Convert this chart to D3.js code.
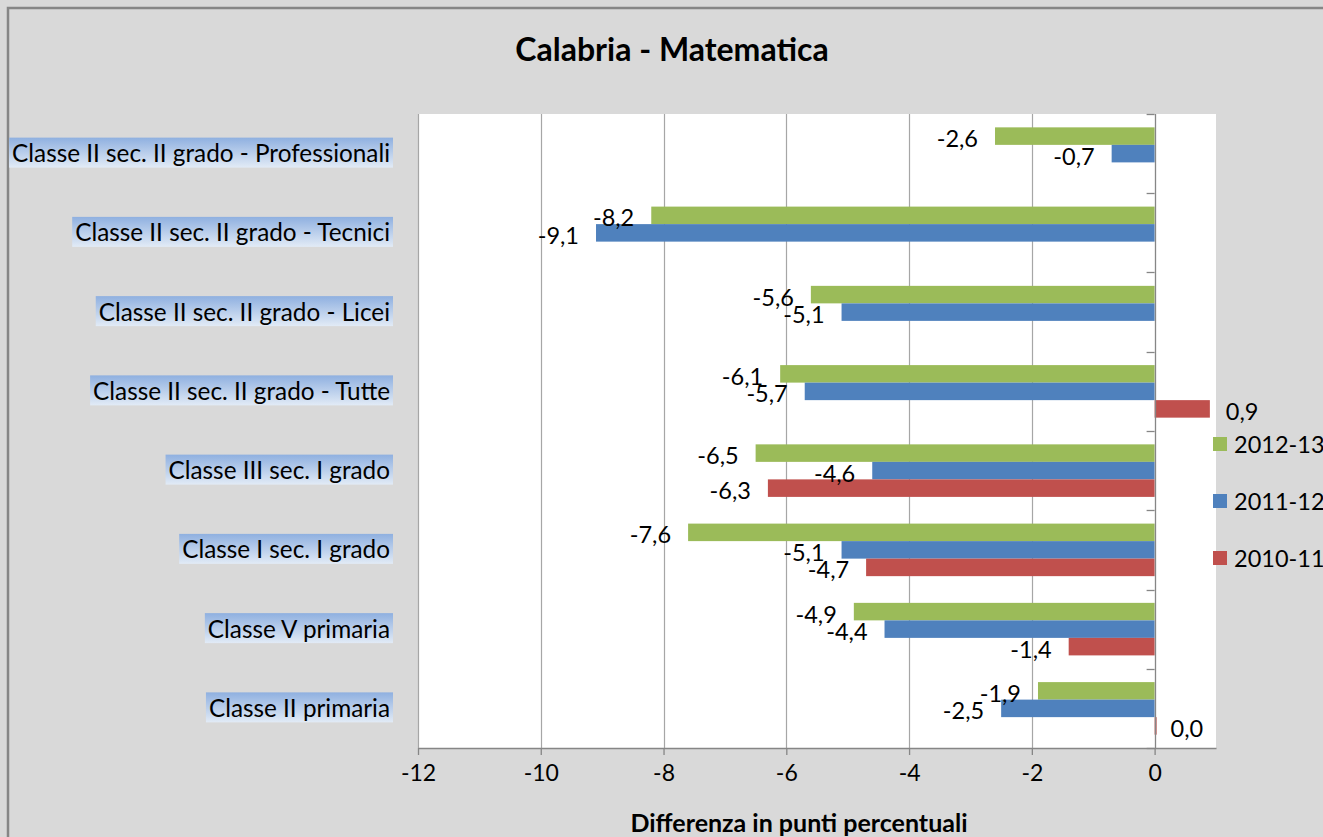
<!DOCTYPE html>
<html>
<head>
<meta charset="utf-8">
<script src="https://cdn.jsdelivr.net/npm/d3@7"></script>
<style>
  html, body { margin: 0; padding: 0; background: #d9d9d9; overflow: hidden; }
  svg { display: block; }
  text { font-family: Lato, "Open Sans", sans-serif; fill: #000; }
</style>
</head>
<body>
<svg id="chart" width="1323" height="837"></svg>
<script>
// ---- data (top-to-bottom display order) ----
const categories = [
  "Classe II sec. II grado - Professionali",
  "Classe II sec. II grado - Tecnici",
  "Classe II sec. II grado - Licei",
  "Classe II sec. II grado - Tutte",
  "Classe III sec. I grado",
  "Classe I sec. I grado",
  "Classe V primaria",
  "Classe II primaria"
];
const seriesNames = ["2012-13", "2011-12", "2010-11"];
const values2012_13 = [-2.6, -8.2, -5.6, -6.1, -6.5, -7.6, -4.9, -1.9];
const values2011_12 = [-0.7, -9.1, -5.1, -5.7, -4.6, -5.1, -4.4, -2.5];
const values2010_11 = [null, null, null, 0.9, -6.3, -4.7, -1.4, 0.0];
const xTicks = [-12, -10, -8, -6, -4, -2, 0];
const seriesColors = ["#9bbb59", "#4f81bd", "#c0504d"];

const seriesValues = [values2012_13, values2011_12, values2010_11];

const svg = d3.select("#chart");
const W = 1323, H = 837;
const plot = { left: 418, right: 1216, top: 114, bottom: 748 };
const FONT = "Lato, 'Open Sans', sans-serif";

// outer chart frame (extends beyond the viewport right/bottom)
svg.append("rect")
  .attr("x", 8).attr("y", 8).attr("width", W + 20).attr("height", H + 20)
  .attr("fill", "#d9d9d9").attr("stroke", "#868686").attr("stroke-width", 2.5);

// plot area
svg.append("rect")
  .attr("x", plot.left).attr("y", plot.top)
  .attr("width", plot.right - plot.left).attr("height", plot.bottom - plot.top)
  .attr("fill", "#ffffff");

const x = d3.scaleLinear().domain([-12, 1]).range([plot.left, plot.right]);
const y = d3.scaleBand().domain(categories).range([plot.top, plot.bottom])
  .paddingInner(0.337).paddingOuter(0.337 / 2);
const ySub = d3.scaleBand().domain(seriesNames).range([0, y.bandwidth()]);

// gridlines
svg.append("g").selectAll("line")
  .data(xTicks.filter(t => t !== 0))
  .join("line")
  .attr("x1", d => Math.round(x(d)) + 0.5).attr("x2", d => Math.round(x(d)) + 0.5)
  .attr("y1", plot.top).attr("y2", plot.bottom)
  .attr("stroke", "#a6a6a6").attr("stroke-width", 1.2);

// bars
const rows = [];
seriesNames.forEach((s, si) => {
  categories.forEach((c, ci) => {
    const v = seriesValues[si][ci];
    if (v !== null) rows.push({ s, si, c, v });
  });
});

svg.append("g").selectAll("rect")
  .data(rows)
  .join("rect")
  .attr("x", d => d.v === 0 ? x(0) : Math.min(x(0), x(d.v)))
  .attr("width", d => d.v === 0 ? 2 : Math.abs(x(d.v) - x(0)))
  .attr("y", d => y(d.c) + ySub(d.s))
  .attr("height", ySub.bandwidth())
  .attr("fill", d => seriesColors[d.si]);

// value labels
const fmt = v => d3.format(".1f")(v).replace(".", ",").replace("−", "-");
svg.append("g").selectAll("text")
  .data(rows)
  .join("text")
  .attr("x", d => d.v < 0 ? x(d.v) - 17 : x(d.v) + 16)
  .attr("y", d => y(d.c) + ySub(d.s) + ySub.bandwidth() / 2 + 2)
  .attr("text-anchor", d => d.v < 0 ? "end" : "start")
  .attr("dominant-baseline", "central")
  .attr("font-size", 23.5)
  .text(d => fmt(d.v));

// vertical axis at 0
const yAxisG = svg.append("g");
yAxisG.append("line")
  .attr("x1", Math.round(x(0)) + 0.5).attr("x2", Math.round(x(0)) + 0.5)
  .attr("y1", plot.top).attr("y2", plot.bottom)
  .attr("stroke", "#868686").attr("stroke-width", 1.3);
const boundaries = categories.map(c => y(c) - y.step() * y.paddingInner() / 2)
  .concat([plot.bottom]);
yAxisG.selectAll("line.tick")
  .data(boundaries)
  .join("line").attr("class", "tick")
  .attr("x1", x(0) - 8).attr("x2", x(0))
  .attr("y1", d => Math.round(d) + 0.5).attr("y2", d => Math.round(d) + 0.5)
  .attr("stroke", "#868686").attr("stroke-width", 1.3);

// x axis
const xAxis = d3.axisBottom(x).tickValues(xTicks).tickSize(7).tickSizeOuter(0).tickPadding(10)
  .tickFormat(d => String(d));
const xg = svg.append("g").attr("transform", `translate(0,${plot.bottom})`).call(xAxis);
xg.select(".domain").attr("stroke", "#868686").attr("stroke-width", 1.3);
xg.selectAll(".tick line").attr("stroke", "#868686").attr("stroke-width", 1.3);
xg.selectAll(".tick text")
  .attr("font-size", 23).attr("font-family", FONT)
  .attr("fill", "#000");

// category labels with gradient highlight
const defs = svg.append("defs");
const grad = defs.append("linearGradient").attr("id", "lblGrad")
  .attr("x1", 0).attr("y1", 0).attr("x2", 0).attr("y2", 1);
grad.append("stop").attr("offset", "0%").attr("stop-color", "#8fb0e0");
grad.append("stop").attr("offset", "100%").attr("stop-color", "#e2ebf6");

const labelG = svg.append("g");
categories.forEach(c => {
  const cy = y(c) + y.bandwidth() / 2 - 1;
  const g = labelG.append("g");
  const t = g.append("text")
    .attr("x", 390).attr("y", cy)
    .attr("text-anchor", "end").attr("dominant-baseline", "central")
    .attr("font-size", 24.3)
    .text(c);
  const bb = t.node().getBBox();
  g.insert("rect", "text")
    .attr("x", bb.x - 3).attr("y", cy - 15)
    .attr("width", bb.width + 6).attr("height", 30)
    .attr("fill", "url(#lblGrad)");
});

// legend
const legend = svg.append("g");
const legendY = [443, 500, 557];
seriesNames.forEach((s, i) => {
  legend.append("rect")
    .attr("x", 1213).attr("y", legendY[i] - 6).attr("width", 14).attr("height", 14)
    .attr("fill", seriesColors[i]);
  legend.append("text")
    .attr("x", 1234).attr("y", legendY[i] + 1)
    .attr("dominant-baseline", "central")
    .attr("font-size", 23.5)
    .text(s);
});

// title
svg.append("text")
  .attr("x", 672).attr("y", 48)
  .attr("text-anchor", "middle").attr("dominant-baseline", "central")
  .attr("font-size", 32).attr("font-weight", "bold")
  .text("Calabria - Matematica");

// axis title
svg.append("text")
  .attr("x", 799).attr("y", 822)
  .attr("text-anchor", "middle").attr("dominant-baseline", "central")
  .attr("font-size", 25).attr("font-weight", "bold")
  .text("Differenza in punti percentuali");
</script>
</body>
</html>
